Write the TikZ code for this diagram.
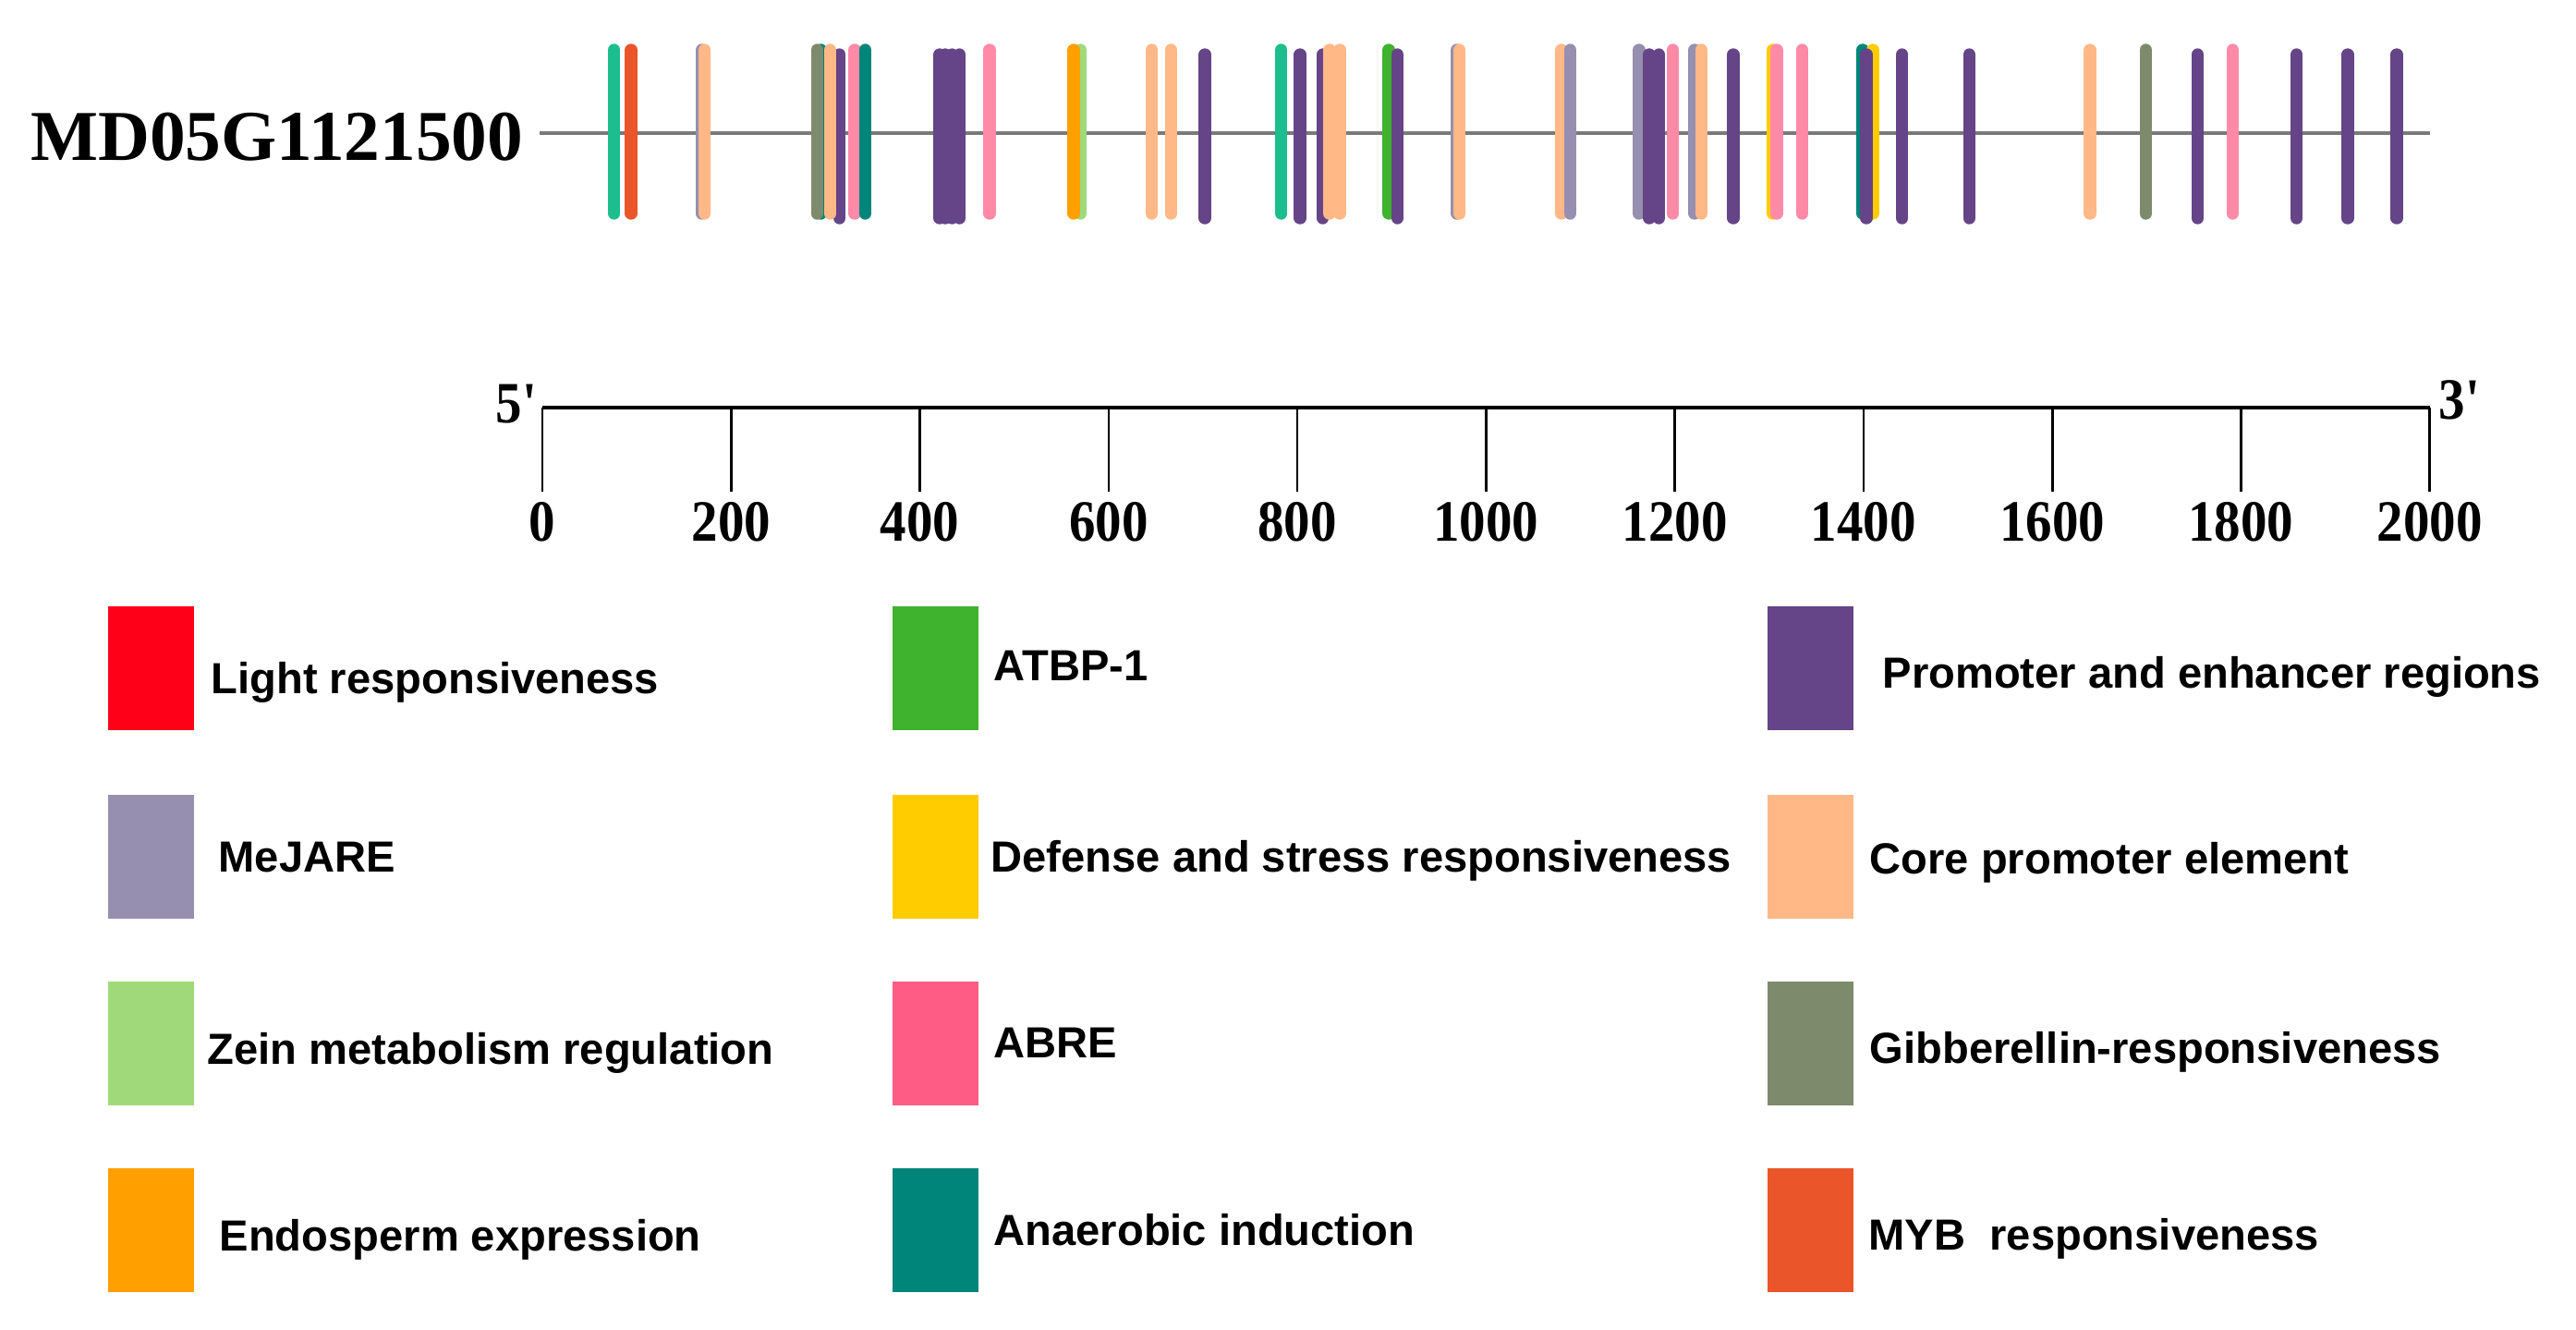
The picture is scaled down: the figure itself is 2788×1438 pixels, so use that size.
\documentclass[tikz,border=0pt]{standalone}
\usepackage{fontspec}
\setmainfont{Liberation Serif}
\setsansfont{Liberation Sans}

\definecolor{lightcol}{HTML}{FF0019}
\definecolor{mejacol}{HTML}{968FAF}
\definecolor{zeincol}{HTML}{A0D97A}
\definecolor{endocol}{HTML}{FFA000}
\definecolor{atbpcol}{HTML}{3FB22E}
\definecolor{defcol}{HTML}{FFCC00}
\definecolor{abrecol}{HTML}{FF5C85}
\definecolor{abrebar}{HTML}{FF8AA8}
\definecolor{anaercol}{HTML}{00857A}
\definecolor{promcol}{HTML}{654487}
\definecolor{corecol}{HTML}{FFB886}
\definecolor{gibcol}{HTML}{7E8A6C}
\definecolor{mybcol}{HTML}{EA552A}
\definecolor{mintcol}{HTML}{1BBE8C}

\tikzset{
  bar/.style={line width=3.8pt, line cap=round, draw=#1},
  barmeja/.style={bar=mejacol},
  barzein/.style={bar=zeincol},
  barendo/.style={bar=endocol},
  baratbp/.style={bar=atbpcol},
  bardef/.style={bar=defcol},
  barabre/.style={bar=abrebar},
  baranaer/.style={bar=anaercol},
  barprom/.style={bar=promcol, yshift=-0.05cm},
  barcore/.style={bar=corecol},
  bargib/.style={bar=gibcol},
  barmyb/.style={bar=mybcol},
  barmint/.style={bar=mintcol},
  geneline/.style={draw=black!52, line width=1.4pt},
  axisline/.style={line width=1.15pt},
  tick/.style={line width=0.75pt},
  genename/.style={font=\bfseries\fontsize{22}{24}\selectfont, inner sep=0},
  ticklabel/.style={font=\bfseries\fontsize{18}{20}\selectfont, inner sep=0, anchor=base, xscale=0.9},
  endlabel/.style={font=\bfseries\fontsize{18}{20}\selectfont, inner sep=0, xscale=0.9},
  legbox/.style={minimum width=0.93cm, minimum height=1.34cm, inner sep=0, anchor=north west},
  legtext/.style={font=\sffamily\bfseries\fontsize{13.4}{15}\selectfont, inner sep=0, anchor=base west}
}

\begin{document}
\begin{tikzpicture}[x=0.01cm, y=-0.01cm]
    \useasboundingbox (0,0) rectangle (2788,1438);
    \node[genename, anchor=base east] (gene) at (567,173) {MD05G1121500};

    \begin{scope}[shift={(587,0)}, x=0.010205cm]
	% promoter line and elements
	\draw[geneline] (-3,144) -- (2000,144);
	\foreach \pos/\kind in {169/barmeja, 76/barmint, 94/barmyb, 172/barcore,
	    295/baranaer, 291/bargib, 315/barprom, 305/barcore, 331/barabre, 342/baranaer,
	    421/barprom, 427/barprom, 434/barprom, 442/barprom, 474/barabre,
	    570/barzein, 563/barendo, 646/barcore, 666/barcore, 702/barprom,
	    783/barmint, 803/barprom, 827/barprom, 834/barcore, 845/barcore,
	    897/baratbp, 906/barprom, 969/barmeja, 972/barcore, 1080/barcore, 1089/barmeja,
	    1162/barmeja, 1173/barprom, 1183/barprom, 1198/barabre, 1221/barmeja, 1228/barcore,
	    1262/barprom, 1304/bardef, 1308/barabre, 1335/barabre,
	    1399/baranaer, 1410/bardef, 1403/barprom, 1441/barprom, 1512/barprom,
	    1640/barcore, 1699/bargib, 1754/barprom, 1791/barabre,
	    1859/barprom, 1913/barprom, 1965/barprom}
	    \draw[\kind] (\pos,54) -- (\pos,231);

	% scale
	\draw[axisline] (0,441) -- (2000,441);
	\foreach \t in {0,200,...,2000} {
	    \draw[tick] (\t,441) -- (\t,532);
	    \node[ticklabel] (lab\t) at (\t,585) {\t};
	}
	\node[endlabel, anchor=base east] (five) at (-5,457) {5\textquotesingle};
	\node[endlabel, anchor=base west] (three) at (2009,453) {3\textquotesingle};
    \end{scope}

    % legend
    \foreach \bx/\by/\col/\tx/\ty/\txt [count=\i] in {
	116/655/lightcol/228/750/Light responsiveness,
	116/859/mejacol/236/943/MeJARE,
	116/1061/zeincol/224/1151/Zein metabolism regulation,
	116/1263/endocol/237/1353/Endosperm expression,
	965/655/atbpcol/1075/736/ATBP-1,
	965/859/defcol/1072/943/Defense and stress responsiveness,
	965/1061/abrecol/1075/1144/ABRE,
	965/1263/anaercol/1075/1347/Anaerobic induction,
	1912/655/promcol/2037/744/Promoter and enhancer regions,
	1912/859/corecol/2023/945/Core promoter element,
	1912/1061/gibcol/2023/1150/Gibberellin-responsiveness,
	1912/1263/mybcol/2022/1352/MYB\ \ responsiveness} {
	\node[legbox, fill=\col] (key\i) at (\bx,\by) {};
	\node[legtext] (leg\i) at (\tx,\ty) {\txt};
    }
\end{tikzpicture}
\end{document}
